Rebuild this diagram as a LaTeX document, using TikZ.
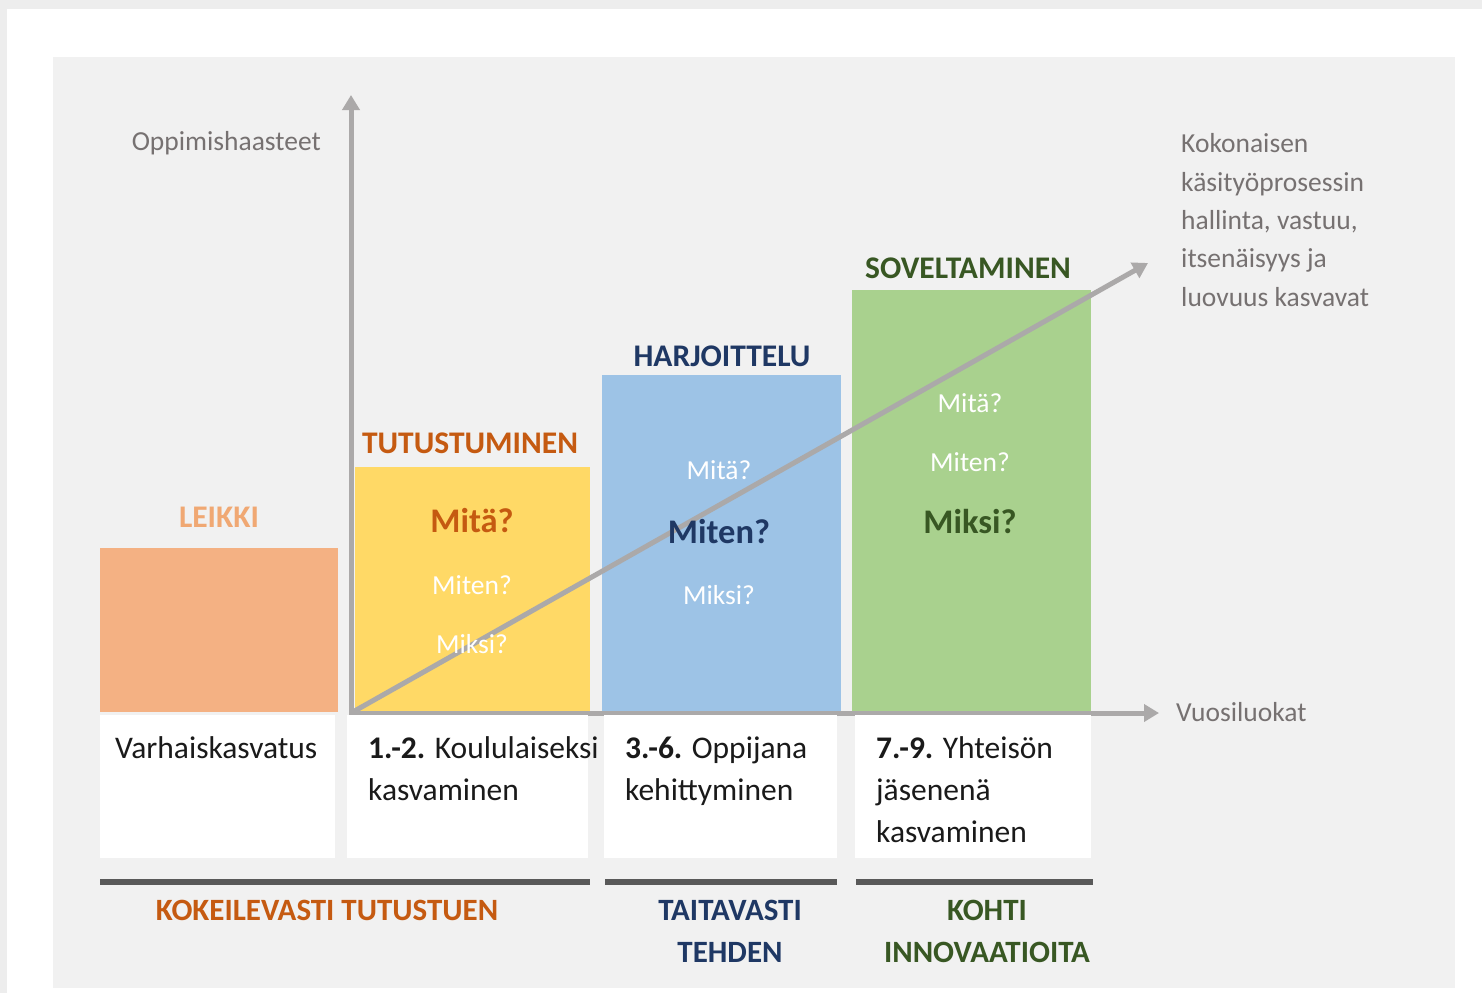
\documentclass[tikz,border=0pt]{standalone}
\usepackage{fontspec}
\setmainfont{Carlito}
\usetikzlibrary{arrows.meta}
\definecolor{outerbg}{HTML}{EDEDED}
\definecolor{panel}{HTML}{F1F1F1}
\definecolor{axisgray}{HTML}{ABA9A9}
\definecolor{orangebox}{HTML}{F4B183}
\definecolor{yellowbox}{HTML}{FFD966}
\definecolor{bluebox}{HTML}{9DC3E6}
\definecolor{greenbox}{HTML}{A9D18E}
\definecolor{darkorange}{HTML}{C55A11}
\definecolor{darkblue}{HTML}{1F3864}
\definecolor{darkgreen}{HTML}{385723}
\definecolor{lightorange}{HTML}{F0A873}
\definecolor{graytext}{HTML}{767171}
\definecolor{barcol}{HTML}{595959}
\definecolor{bodytext}{HTML}{1A1A1A}
\tikzset{
  colbox/.style={draw=none, inner sep=0pt, anchor=north west},
  whitebox/.style={fill=white, draw=none, inner sep=0pt, anchor=north west, minimum height=143pt},
  title/.style={font=\bfseries\fontsize{31.5}{36}\selectfont, anchor=base, inner sep=0pt},
  qbig/.style={font=\bfseries\fontsize{34.5}{40}\selectfont, anchor=base, inner sep=0pt},
  qsmall/.style={font=\fontsize{27.5}{32}\selectfont, text=white, anchor=base, inner sep=0pt},
  body/.style={font=\fontsize{31.5}{42}\selectfont, text=bodytext, anchor=base west, align=left, inner sep=0pt},
  graylabel/.style={font=\fontsize{27.5}{38.3}\selectfont, text=graytext, inner sep=0pt, align=left},
  phase/.style={font=\bfseries\fontsize{31}{41.5}\selectfont, anchor=base, align=center, inner sep=0pt},
  axis/.style={draw=axisgray, line width=5pt, -{Triangle[width=17pt,length=15pt]}},
  barline/.style={fill=barcol, draw=none, inner sep=0pt, anchor=north west, minimum height=6pt}
}
\begin{document}
\begin{tikzpicture}[x=1pt,y=-1pt]
\useasboundingbox (0,0) rectangle (1482,993);
\fill[outerbg] (0,0) rectangle (1482,993);
\fill[white] (7,9) rectangle (1482,993);
\fill[panel] (53,57) rectangle (1455,988);

% coloured columns
\node[colbox, fill=orangebox, minimum width=238pt, minimum height=164pt] (leikki) at (100,548) {};
\node[colbox, fill=yellowbox, minimum width=235pt, minimum height=245pt] (tutu) at (355,467) {};
\node[colbox, fill=bluebox, minimum width=239pt, minimum height=337pt] (harj) at (602,375) {};
\node[colbox, fill=greenbox, minimum width=239pt, minimum height=422pt] (sove) at (852,290) {};

% titles
\node[title, text=lightorange] (tleikki) at (219,527) {LEIKKI};
\node[title, text=darkorange] (ttutu) at (470,453) {TUTUSTUMINEN};
\node[title, text=darkblue] (tharj) at (722,366) {HARJOITTELU};
\node[title, text=darkgreen] (tsove) at (968,278) {SOVELTAMINEN};

% axes
\coordinate (origin) at (351,713);
\coordinate (ytip) at (351,95);
\coordinate (xtip) at (1159,713);
\coordinate (dtip) at (1148,263);
\draw[axis] (349,713) -- (xtip);
\draw[axis] (origin) -- (ytip);
\draw[axis] (origin) -- (dtip);

% questions
\node[qbig, text=darkorange] (q1a) at (472,532) {Mitä?};
\node[qsmall] (q1b) at (472,594) {Miten?};
\node[qsmall] (q1c) at (472,653) {Miksi?};
\node[qsmall] (q2a) at (719,479) {Mitä?};
\node[qbig, text=darkblue] (q2b) at (719,543) {Miten?};
\node[qsmall] (q2c) at (719,604) {Miksi?};
\node[qsmall] (q3a) at (970,412) {Mitä?};
\node[qsmall] (q3b) at (970,471) {Miten?};
\node[qbig, text=darkgreen] (q3c) at (970,533) {Miksi?};

% axis labels
\node[graylabel, anchor=base east] (ylabel) at (321,150) {Oppimishaasteet};
\node[graylabel, anchor=base west] (xlabel) at (1176,721) {Vuosiluokat};
\node[graylabel, anchor=base west] (dlabel) at (1181,306) {Kokonaisen\\käsityöprosessin\\hallinta, vastuu,\\itsenäisyys ja\\luovuus kasvavat};

% white boxes
\node[whitebox, minimum width=235pt] (w1) at (100,715) {};
\node[whitebox, minimum width=241pt] (w2) at (347,715) {};
\node[whitebox, minimum width=233pt] (w3) at (604,715) {};
\node[whitebox, minimum width=236pt] (w4) at (855,715) {};
\node[body] (b1) at (115,758) {Varhaiskasvatus};
\node[body] (b2) at (368,800) {\textbf{1.-2.} Koululaiseksi\\kasvaminen};
\node[body] (b3) at (625,800) {\textbf{3.-6.} Oppijana\\kehittyminen};
\node[body] (b4) at (876,842) {\textbf{7.-9.} Yhteisön\\jäsenenä\\kasvaminen};

% bars
\node[barline, minimum width=490pt] (bar1) at (100,879) {};
\node[barline, minimum width=232pt] (bar2) at (605,879) {};
\node[barline, minimum width=237pt] (bar3) at (856,879) {};

% phase labels
\node[phase, text=darkorange] (p1) at (327,920) {KOKEILEVASTI TUTUSTUEN};
\node[phase, text=darkblue] (p2) at (730,962) {TAITAVASTI\\TEHDEN};
\node[phase, text=darkgreen] (p3) at (987,962) {KOHTI\\INNOVAATIOITA};
\end{tikzpicture}
\end{document}
